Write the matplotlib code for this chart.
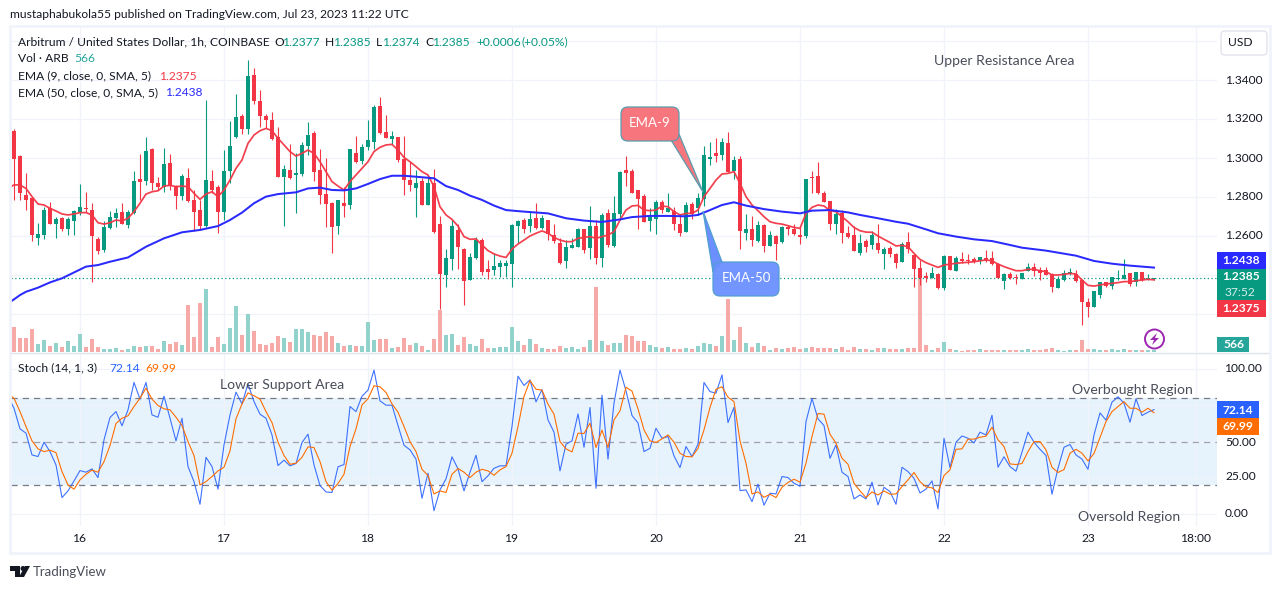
import numpy as np
import matplotlib
matplotlib.use("Agg")
import matplotlib.pyplot as plt
from matplotlib.patches import Rectangle, FancyBboxPatch, Polygon, Circle

W, H = 1281, 589
GREEN = "#089981"
RED = "#f23645"
TEXT = "#131722"
SOFT = "#4a4e5a"
GRID = "#f0f3fa"
FONT = "Lato"

opens = [
    1.3138,1.3010,1.2810,1.2795,1.2590,1.2605,1.2742,1.2661,1.2692,1.2636,1.2677,1.2721,
    1.2742,1.2733,1.2586,1.2528,1.2639,1.2691,1.2723,1.2656,1.2718,1.2892,1.2882,1.3046,
    1.2872,1.2853,1.2974,1.2856,1.2805,1.2897,1.2785,1.2733,1.2651,1.2882,1.2851,1.2723,
    1.2933,1.3108,1.3216,1.3147,1.3426,1.3292,1.3216,1.3195,1.3108,1.2903,1.2938,1.2913,
    1.2918,1.3062,1.3128,1.2938,1.2815,1.2769,1.2651,1.2769,1.2759,1.3026,1.2985,1.3056,
    1.3082,1.3267,1.3133,1.3098,1.3108,1.2995,1.2887,1.2846,1.2882,1.2759,1.2870,1.2661,
    1.2400,1.2482,1.2631,1.2533,1.2374,1.2487,1.2579,1.2431,1.2426,1.2441,1.2448,1.2456,
    1.2651,1.2682,1.2651,1.2692,1.2641,1.2682,1.2605,1.2564,1.2472,1.2538,1.2543,1.2636,
    1.2538,1.2651,1.2487,1.2718,1.2549,1.2713,1.2938,1.2933,1.2836,1.2805,1.2677,1.2687,
    1.2774,1.2723,1.2728,1.2661,1.2620,1.2764,1.2744,1.2790,1.2997,1.3026,1.3015,1.3077,
    1.2933,1.2995,1.2615,1.2636,1.2574,1.2656,1.2549,1.2600,1.2569,1.2646,1.2636,1.2605,
    1.2600,1.2904,1.2908,1.2821,1.2779,1.2661,1.2718,1.2615,1.2605,1.2513,1.2574,1.2554,
    1.2564,1.2508,1.2538,1.2508,1.2467,1.2567,1.2502,1.2436,1.2395,1.2384,1.2405,1.2333,
    1.2497,1.2420,1.2482,1.2477,1.2482,1.2470,1.2487,1.2487,1.2456,1.2369,1.2403,1.2390,
    1.2379,1.2420,1.2441,1.2426,1.2426,1.2405,1.2333,1.2374,1.2403,1.2405,1.2374,1.2261,
    1.2236,1.2297,1.2364,1.2343,1.2379,1.2379,1.2408,1.2364,1.2413,1.2379,1.2377,
]
highs = [
    1.3147,1.3015,1.2921,1.2797,1.2665,1.2750,1.2776,1.2699,1.2699,1.2699,1.2733,1.2867,
    1.2826,1.2771,1.2597,1.2675,1.2728,1.2742,1.2771,1.2733,1.2933,1.3021,1.3110,1.3050,
    1.2904,1.3051,1.3021,1.2862,1.2918,1.2949,1.2836,1.2785,1.3298,1.2938,1.2862,1.3041,
    1.3190,1.3328,1.3226,1.3503,1.3462,1.3349,1.3226,1.3236,1.3159,1.2964,1.3072,1.3024,
    1.3082,1.3185,1.3139,1.3045,1.3000,1.2774,1.2785,1.2853,1.3046,1.3113,1.3072,1.3195,
    1.3272,1.3313,1.3221,1.3139,1.3110,1.3113,1.2981,1.2938,1.2897,1.2913,1.2944,1.2703,
    1.2533,1.2682,1.2661,1.2538,1.2511,1.2593,1.2588,1.2477,1.2511,1.2477,1.2477,1.2661,
    1.2682,1.2692,1.2725,1.2769,1.2708,1.2682,1.2661,1.2588,1.2579,1.2588,1.2639,1.2636,
    1.2754,1.2682,1.2716,1.2738,1.2805,1.2933,1.3010,1.2944,1.2836,1.2815,1.2742,1.2785,
    1.2785,1.2821,1.2747,1.2713,1.2774,1.2776,1.2821,1.3062,1.3082,1.3103,1.3103,1.3133,
    1.3010,1.3010,1.2713,1.2703,1.2677,1.2661,1.2627,1.2605,1.2651,1.2656,1.2661,1.2648,
    1.2892,1.2933,1.2980,1.2829,1.2779,1.2738,1.2733,1.2651,1.2651,1.2610,1.2583,1.2626,
    1.2661,1.2545,1.2549,1.2511,1.2569,1.2620,1.2508,1.2477,1.2415,1.2441,1.2408,1.2502,
    1.2497,1.2497,1.2518,1.2508,1.2490,1.2490,1.2528,1.2523,1.2460,1.2412,1.2415,1.2405,
    1.2412,1.2461,1.2461,1.2441,1.2441,1.2408,1.2395,1.2426,1.2436,1.2426,1.2379,1.2282,
    1.2320,1.2366,1.2366,1.2390,1.2426,1.2482,1.2410,1.2415,1.2415,1.2405,1.2385,
]
lows = [
    1.2785,1.2785,1.2733,1.2576,1.2554,1.2586,1.2661,1.2590,1.2627,1.2605,1.2605,1.2708,
    1.2721,1.2366,1.2508,1.2516,1.2634,1.2648,1.2661,1.2639,1.2713,1.2785,1.2862,1.2836,
    1.2836,1.2827,1.2836,1.2738,1.2785,1.2776,1.2626,1.2631,1.2648,1.2819,1.2617,1.2682,
    1.2870,1.3104,1.3123,1.3123,1.3277,1.3161,1.3152,1.3092,1.2903,1.2651,1.2892,1.2716,
    1.2908,1.3015,1.2880,1.2764,1.2644,1.2513,1.2610,1.2699,1.2738,1.2973,1.2969,1.3041,
    1.3046,1.3123,1.3103,1.3072,1.2980,1.2810,1.2831,1.2697,1.2759,1.2759,1.2614,1.2225,
    1.2340,1.2426,1.2429,1.2246,1.2374,1.2484,1.2400,1.2379,1.2400,1.2391,1.2388,1.2340,
    1.2562,1.2614,1.2622,1.2636,1.2634,1.2579,1.2566,1.2456,1.2436,1.2538,1.2542,1.2514,
    1.2480,1.2456,1.2443,1.2545,1.2545,1.2682,1.2856,1.2821,1.2636,1.2673,1.2626,1.2610,
    1.2716,1.2723,1.2631,1.2600,1.2619,1.2687,1.2708,1.2754,1.2964,1.2980,1.2990,1.2928,
    1.2892,1.2533,1.2579,1.2549,1.2569,1.2518,1.2549,1.2477,1.2566,1.2605,1.2605,1.2559,
    1.2591,1.2819,1.2815,1.2774,1.2631,1.2610,1.2564,1.2590,1.2523,1.2502,1.2518,1.2533,
    1.2511,1.2431,1.2492,1.2436,1.2465,1.2513,1.2338,1.2349,1.2364,1.2383,1.2328,1.2323,
    1.2426,1.2419,1.2460,1.2456,1.2460,1.2456,1.2468,1.2453,1.2383,1.2328,1.2379,1.2354,
    1.2378,1.2419,1.2395,1.2374,1.2398,1.2313,1.2331,1.2369,1.2398,1.2366,1.2143,1.2184,
    1.2234,1.2282,1.2340,1.2328,1.2376,1.2378,1.2343,1.2343,1.2371,1.2376,1.2374,
]
closes = [
    1.2995,1.2822,1.2785,1.2605,1.2610,1.2733,1.2661,1.2687,1.2636,1.2687,1.2728,1.2749,
    1.2737,1.2600,1.2523,1.2646,1.2696,1.2718,1.2661,1.2723,1.2882,1.2877,1.3036,1.2872,
    1.2851,1.2969,1.2856,1.2805,1.2908,1.2781,1.2723,1.2651,1.2887,1.2836,1.2723,1.2933,
    1.3062,1.3210,1.3149,1.3421,1.3292,1.3216,1.3195,1.3098,1.2903,1.2944,1.2897,1.2925,
    1.3065,1.3118,1.2928,1.2810,1.2764,1.2646,1.2785,1.2754,1.3046,1.2980,1.3056,1.3092,
    1.3262,1.3128,1.3103,1.3113,1.2990,1.2887,1.2862,1.2872,1.2759,1.2872,1.2620,1.2405,
    1.2487,1.2651,1.2543,1.2369,1.2492,1.2579,1.2415,1.2415,1.2446,1.2461,1.2461,1.2656,
    1.2677,1.2636,1.2687,1.2641,1.2692,1.2610,1.2574,1.2461,1.2543,1.2554,1.2636,1.2528,
    1.2651,1.2487,1.2708,1.2554,1.2718,1.2928,1.2923,1.2821,1.2790,1.2673,1.2697,1.2774,
    1.2733,1.2744,1.2661,1.2615,1.2759,1.2714,1.2795,1.3015,1.3005,1.3010,1.3082,1.2928,
    1.2990,1.2626,1.2636,1.2579,1.2656,1.2549,1.2605,1.2559,1.2646,1.2636,1.2610,1.2595,
    1.2892,1.2899,1.2821,1.2774,1.2661,1.2713,1.2615,1.2597,1.2523,1.2562,1.2543,1.2605,
    1.2528,1.2533,1.2508,1.2461,1.2559,1.2535,1.2431,1.2384,1.2386,1.2410,1.2333,1.2497,
    1.2426,1.2487,1.2473,1.2470,1.2465,1.2490,1.2477,1.2456,1.2384,1.2405,1.2383,1.2383,
    1.2410,1.2441,1.2420,1.2410,1.2400,1.2338,1.2379,1.2410,1.2413,1.2369,1.2261,1.2236,
    1.2318,1.2364,1.2343,1.2390,1.2384,1.2400,1.2354,1.2413,1.2374,1.2384,1.2385,
]
volumes = [
    7600,4300,4300,7000,2500,3700,1900,2800,1600,3400,1900,5500,
    1600,4000,1600,1000,1000,1300,700,1000,1900,1600,1900,1900,
    1000,3400,2500,3100,2200,14200,4600,14800,19000,1600,4600,2500,
    7300,13900,5200,11500,6400,2500,2200,2800,4900,4300,3100,7000,
    7000,6100,5200,4900,6100,4900,2800,1900,2200,1900,1900,9100,
    3700,4000,4000,1300,1600,4300,2200,2800,1900,700,4000,12700,
    5200,5500,2200,4600,2500,1900,4000,1300,1300,1600,1600,7600,
    3400,2200,4000,2500,1300,1000,1000,1900,1300,1600,1000,1600,
    3700,19600,3400,2200,2800,2800,5200,4900,3400,3400,2200,1600,
    1300,1600,1000,1000,1300,1000,1900,2800,2500,1900,4900,16000,
    3700,7600,2800,1600,2800,1900,700,1300,1000,1300,1600,1000,
    1300,1600,1300,1300,1300,1000,1600,700,1600,1000,1000,700,
    1300,1300,1000,1000,1000,1300,1300,22200,2200,700,1300,3100,
    1000,700,400,700,700,1000,700,700,700,700,700,700,
    700,1000,700,700,1000,1300,700,400,700,700,3700,1000,
    1000,700,700,1000,700,1000,700,700,700,700,566,
]
# line values start one bar left of the first visible candle
ema9 = [
    1.2844,1.2862,1.2862,1.2844,1.2802,1.2764,1.2759,1.2742,1.2728,1.2713,1.2708,1.2713,
    1.2720,1.2720,1.2708,1.2668,1.2661,1.2668,1.2682,1.2677,1.2691,1.2725,1.2768,1.2815,
    1.2827,1.2832,1.2856,1.2860,1.2853,1.2856,1.2853,1.2819,1.2788,1.2815,1.2827,1.2802,
    1.2836,1.2887,1.2947,1.2990,1.3075,1.3118,1.3140,1.3152,1.3140,1.3101,1.3067,1.3033,
    1.3010,1.3024,1.3041,1.3024,1.2981,1.2930,1.2879,1.2856,1.2836,1.2879,1.2913,1.2947,
    1.2981,1.3033,1.3055,1.3067,1.3070,1.3041,1.3003,1.2981,1.2956,1.2930,1.2913,1.2853,
    1.2750,1.2708,1.2685,1.2651,1.2597,1.2583,1.2585,1.2554,1.2525,1.2508,1.2497,1.2490,
    1.2533,1.2559,1.2579,1.2600,1.2614,1.2626,1.2614,1.2593,1.2579,1.2571,1.2571,1.2588,
    1.2593,1.2597,1.2588,1.2597,1.2605,1.2622,1.2682,1.2733,1.2754,1.2757,1.2733,1.2730,
    1.2733,1.2754,1.2750,1.2725,1.2708,1.2716,1.2716,1.2733,1.2802,1.2844,1.2887,1.2918,
    1.2921,1.2930,1.2870,1.2802,1.2759,1.2730,1.2699,1.2673,1.2665,1.2661,1.2653,1.2644,
    1.2639,1.2716,1.2747,1.2759,1.2754,1.2730,1.2725,1.2699,1.2673,1.2644,1.2627,1.2620,
    1.2619,1.2600,1.2583,1.2567,1.2549,1.2552,1.2545,1.2511,1.2480,1.2463,1.2451,1.2439,
    1.2451,1.2456,1.2460,1.2463,1.2465,1.2468,1.2473,1.2477,1.2473,1.2456,1.2443,1.2432,
    1.2422,1.2422,1.2429,1.2429,1.2422,1.2417,1.2400,1.2400,1.2403,1.2408,1.2405,1.2374,
    1.2347,1.2343,1.2349,1.2354,1.2357,1.2361,1.2366,1.2366,1.2371,1.2374,1.2378,1.2375,
]
ema50_bars = [
    -1,0,1,2,4,6,8,10,12,14,16,19,22,25,28,31,34,36,38,40,42,44,47,49,51,53,55,57,59,61,63,65,67,
    70,72,74,76,78,80,82,85,89,92,95,98,101,103,106,109,112,114,116,118,120,122,125,128,131,133,
    136,139,141,144,147,149,152,154,157,160,163,166,168,172,177,180,183,186,190,
]
ema50 = [
    1.2255,1.2275,1.2297,1.2314,1.2335,1.2362,1.2383,1.2413,1.2443,1.2451,1.2468,1.2490,1.2545,
    1.2588,1.2619,1.2631,1.2651,1.2682,1.2720,1.2768,1.2802,1.2815,1.2824,1.2844,1.2848,1.2836,
    1.2834,1.2844,1.2867,1.2892,1.2909,1.2909,1.2904,
    1.2896,1.2856,1.2836,1.2807,1.2785,1.2756,1.2733,1.2725,1.2716,1.2691,1.2679,1.2672,1.2685,
    1.2697,1.2703,1.2703,1.2701,1.2708,1.2733,1.2759,1.2773,1.2756,1.2738,1.2725,1.2716,1.2730,
    1.2733,1.2721,1.2708,1.2691,1.2673,1.2663,1.2634,1.2614,1.2597,1.2583,1.2574,1.2554,1.2540,
    1.2525,1.2499,1.2472,1.2458,1.2448,1.2438,
]
stoch_k = [
    81.2,73.1,58.9,55.9,40.9,39.8,49.7,43.2,34.0,11.5,16.1,23.0,30.1,29.0,31.3,25.3,
    51.3,66.7,70.8,61.0,72.0,90.9,79.4,90.9,68.5,66.9,81.4,66.2,50.6,66.2,32.9,22.5,
    6.9,39.3,32.9,17.3,47.8,68.5,84.2,76.1,89.9,77.7,69.0,66.2,54.7,33.6,37.3,33.4,
    35.0,49.5,55.2,34.0,19.8,15.4,15.0,32.7,34.3,74.3,70.8,81.4,85.6,99.4,78.2,75.2,
    75.2,61.2,47.6,44.4,38.0,11.0,28.3,2.5,16.8,24.4,39.6,31.3,16.1,29.0,40.7,22.5,
    26.5,31.7,33.4,33.4,60.5,95.2,88.8,92.7,77.5,86.0,65.1,56.6,29.9,48.3,50.6,69.2,
    46.2,73.6,17.9,82.1,38.0,76.6,99.4,85.1,68.1,63.0,43.2,45.5,59.3,52.4,53.6,40.2,
    32.2,46.7,39.8,48.3,90.9,84.6,83.5,96.1,63.2,73.8,16.3,16.8,8.7,20.7,6.2,14.5,
    14.0,26.0,25.3,21.4,19.3,63.9,79.8,65.8,61.2,38.6,47.8,29.0,26.0,10.6,13.3,10.6,
    22.1,6.4,18.6,15.6,6.9,32.4,29.4,24.8,14.7,17.3,23.0,3.7,52.4,32.2,49.7,54.0,
    52.4,49.2,56.6,54.7,68.3,32.4,39.6,32.9,29.7,42.8,56.6,49.7,44.8,40.5,13.8,31.7,
    46.2,48.1,40.9,38.0,31.0,54.7,69.9,64.9,77.3,81.0,76.6,63.5,79.6,68.1,70.4,72.14,
]
stoch_d = [
    83.0,80.0,70.8,60.5,50.6,45.1,43.2,44.2,42.5,29.4,20.2,17.3,23.7,27.6,30.4,29.0,
    36.3,47.4,62.6,66.2,67.9,74.3,80.0,86.9,79.4,75.0,72.7,72.0,66.9,61.2,50.1,40.5,
    20.2,22.5,26.0,29.9,32.4,43.7,65.8,76.1,83.7,81.7,79.4,70.8,63.2,49.7,40.5,34.5,
    35.2,39.3,46.5,46.0,36.3,22.5,16.6,21.2,27.6,46.7,58.9,75.4,79.6,88.6,87.9,84.0,
    76.1,70.4,60.5,50.1,43.2,31.0,26.7,14.0,16.1,15.0,27.6,31.5,29.0,25.3,29.0,31.0,
    29.9,26.9,30.6,32.9,42.1,60.5,81.2,92.2,86.2,85.6,75.9,69.0,50.1,45.1,43.0,55.9,
    55.7,62.8,46.0,58.0,46.0,65.1,71.3,87.6,84.9,72.7,58.2,50.6,49.5,52.0,54.7,49.7,
    42.1,39.8,39.6,45.5,58.2,73.6,86.2,87.9,80.7,77.7,50.6,35.2,14.0,15.4,11.7,13.8,
    11.5,18.6,21.9,24.2,22.1,35.2,53.6,69.5,69.0,55.2,49.0,38.6,34.5,21.4,16.1,11.5,
    15.4,13.3,16.1,13.8,14.0,19.1,23.7,28.8,22.5,18.9,18.2,15.0,26.7,30.6,44.8,45.1,
    51.8,51.8,53.1,53.8,60.0,51.3,46.7,34.7,34.3,35.0,43.2,50.1,50.1,44.4,32.4,28.8,
    30.8,42.1,44.8,42.1,36.8,41.9,52.9,63.9,70.8,74.3,77.7,73.1,73.1,70.4,73.1,69.99,
]
price_ticks = [1.22, 1.24, 1.26, 1.28, 1.30, 1.32, 1.34, 1.36]
price_labels = ["1.2600", "1.2800", "1.3000", "1.3200", "1.3400"]
stoch_ticks = [0, 25, 50, 75, 100]
time_bars = [11, 35, 59, 83, 107, 131, 155, 179, 197]
time_labels = ["16", "17", "18", "19", "20", "21", "22", "23", "18:00"]
last_price = 1.2385
price_range = (1.2005, 1.3672)
bar_range = (-0.5, 200.5)


def pane(fig, x0, y0, x1, y1):
    return fig.add_axes([x0 / W, 1 - y1 / H, (x1 - x0) / W, (y1 - y0) / H])


def label(ov, x, y, s, color=TEXT, size=12, ha="left", **kw):
    ov.text(x, y, s, color=color, fontsize=size * 0.72, ha=ha, va="center", family=FONT, **kw)


def tag(ov, x0, y0, x1, y1, color):
    ov.add_patch(Rectangle((x0, y0), x1 - x0, y1 - y0, fc=color, ec="none", zorder=5))


def clean(ax):
    for s in ax.spines.values():
        s.set_visible(False)
    ax.set_xticks([])
    ax.set_yticks([])


def draw_price(grid_ax, vol_ax, ax):
    bars = np.arange(len(closes))
    o, h, l, c = map(np.array, (opens, highs, lows, closes))
    up = c >= o
    colors = np.where(up, GREEN, RED)

    for p in price_ticks:
        grid_ax.axhline(p, color=GRID, lw=0.9)
    for b in time_bars:
        grid_ax.axvline(b, color=GRID, lw=0.9)
    grid_ax.set_xlim(*bar_range)
    grid_ax.set_ylim(*price_range)
    clean(grid_ax)

    vol_ax.bar(bars, volumes, width=0.76, color=np.where(up, "#92d2cc", "#f7a9a7"))
    vol_ax.set_xlim(*bar_range)
    vol_ax.set_ylim(0, 97500)
    vol_ax.patch.set_visible(False)
    clean(vol_ax)

    ax.axhline(last_price, color=GREEN, lw=0.9, ls=(0, (1, 2)), zorder=2)
    ax.vlines(bars, l, h, colors=colors, lw=0.8, zorder=3)
    ax.bar(bars, c - o, bottom=o, width=0.76, color=colors, zorder=4)
    ax.plot(np.arange(-1, len(ema9) - 1), ema9, color="#f23645", lw=1.25, alpha=0.95, zorder=5)
    ax.plot(ema50_bars, ema50, color="#2a2aff", lw=1.45, zorder=5)
    ax.set_xlim(*bar_range)
    ax.set_ylim(*price_range)
    ax.patch.set_visible(False)
    clean(ax)


def draw_stoch(ax):
    ax.axhspan(20, 80, color="#2196f3", alpha=0.11, lw=0, zorder=1)
    for v in stoch_ticks:
        ax.axhline(v, color=GRID, lw=0.9, zorder=1)
    for v in (20, 80):
        ax.axhline(v, color="#787b86", lw=0.9, ls=(0, (5, 4)), zorder=2)
    ax.axhline(50, color="#a0a3ad", lw=0.9, ls=(0, (5, 4)), zorder=2)
    for b in time_bars:
        ax.axvline(b, color=GRID, lw=0.9, zorder=1)
    x = np.arange(-1, len(stoch_k) - 1)
    ax.plot(x, stoch_k, color="#2962ff", lw=0.8, alpha=0.9, zorder=3)
    ax.plot(x, stoch_d, color="#ff6d00", lw=0.8, zorder=4)
    ax.set_xlim(*bar_range)
    ax.set_ylim(-8.1, 111.2)
    clean(ax)


def draw_overlay(ov):
    ov.set_xlim(0, W)
    ov.set_ylim(H, 0)
    ov.axis("off")
    ov.patch.set_visible(False)

    # frame and pane divider
    ov.add_patch(Rectangle((10, 26), 1260, 527, fc="none", ec=GRID, lw=2))
    ov.plot([11, 1268], [352.5, 352.5], color="#e0e3eb", lw=1)

    label(ov, 10, 14, "mustaphabukola55 published on TradingView.com, Jul 23, 2023 11:22 UTC")

    # legend block
    label(ov, 18, 42, "Arbitrum / United States Dollar, 1h, COINBASE")
    for x, s in [(274, "O"), (325, "H"), (376, "L"), (425, "C")]:
        label(ov, x, 42, s)
    for x, s in [(283, "1.2377"), (334, "1.2385"), (383, "1.2374"), (433, "1.2385"),
                 (476, "+0.0006"), (522, "(+0.05%)")]:
        label(ov, x, 42, s, color=GREEN)
    label(ov, 18, 59, "Vol · ARB")
    label(ov, 74, 59, "566", color="#26a69a")
    label(ov, 18, 76, "EMA (9, close, 0, SMA, 5)")
    label(ov, 160, 76, "1.2375", color=RED)
    label(ov, 18, 93, "EMA (50, close, 0, SMA, 5)")
    label(ov, 166, 93, "1.2438", color="#2a2aff")
    label(ov, 18, 368, "Stoch (14, 1, 3)")
    label(ov, 109, 368, "72.14", color="#2962ff")
    label(ov, 145, 368, "69.99", color="#ff6d00")

    # notes on the chart
    label(ov, 934, 61, "Upper Resistance Area", color=SOFT, size=14)
    label(ov, 220, 385, "Lower Support Area", color=SOFT, size=14)
    label(ov, 1072, 390, "Overbought Region", color=SOFT, size=14)
    label(ov, 1078, 517, "Oversold Region", color=SOFT, size=14)

    # callouts
    ov.add_patch(Polygon([(671, 140), (703, 192), (679, 134)], fc="#f7767e", ec="#5b9cae", lw=0.9, zorder=6))
    ov.add_patch(FancyBboxPatch((625, 111), 50, 26, boxstyle="round,pad=4,rounding_size=7",
                                fc="#f7767e", ec="#5b9cae", lw=0.9, zorder=6))
    ov.add_patch(Polygon([(703, 211), (713, 272), (722, 262)], fc="#6b8fff", ec="#4f9fd0", lw=0.9, zorder=6))
    ov.add_patch(FancyBboxPatch((717, 266), 58, 26, boxstyle="round,pad=4,rounding_size=7",
                                fc="#6b8fff", ec="#4f9fd0", lw=0.9, alpha=0.95, zorder=6))
    ov.text(650, 123, "EMA-9", color="white", fontsize=9.5, ha="center", va="center", family=FONT, zorder=7)
    ov.text(746, 278, "EMA-50", color="white", fontsize=9.5, ha="center", va="center", family=FONT, zorder=7)

    # price scale
    for y, s in [(235.7, price_labels[0]), (197, price_labels[1]), (158, price_labels[2]),
                 (119, price_labels[3]), (80, price_labels[4])]:
        label(ov, 1225.5, y, s)
    for y, s in [(369, "100.00"), (442, "50.00"), (477, "25.00"), (513.5, "0.00")]:
        label(ov, 1225, y, s)
    for b, s in zip(time_bars, time_labels):
        label(ov, 14 + 6 * b, 539, s, ha="center")

    ov.add_patch(FancyBboxPatch((1223, 33), 42, 20, boxstyle="round,pad=2,rounding_size=4",
                                fc="white", ec="#e0e3eb", lw=1))
    label(ov, 1240, 43, "USD", ha="center")

    tag(ov, 1217, 252, 1266, 269, "#2a2aff")
    tag(ov, 1217, 269, 1266, 300, GREEN)
    tag(ov, 1217, 300, 1266, 317, RED)
    tag(ov, 1217, 337, 1249, 352, "#26a69a")
    tag(ov, 1217, 401, 1259, 418, "#2962ff")
    tag(ov, 1217, 418, 1259, 435, "#ff6d00")
    label(ov, 1241, 261, "1.2438", color="white", ha="center", zorder=6, fontweight="bold")
    label(ov, 1241, 277, "1.2385", color="white", ha="center", zorder=6, fontweight="bold")
    label(ov, 1240, 292, "37:52", color="#d6f0ea", ha="center", zorder=6)
    label(ov, 1241, 309, "1.2375", color="white", ha="center", zorder=6, fontweight="bold")
    label(ov, 1234, 345, "566", color="white", ha="center", zorder=6, fontweight="bold")
    label(ov, 1238, 410, "72.14", color="white", ha="center", zorder=6, fontweight="bold")
    label(ov, 1238, 427, "69.99", color="white", ha="center", zorder=6, fontweight="bold")

    # bolt badge
    ov.add_patch(Circle((1154.5, 339), 9.5, fc="white", ec="#9c27b0", lw=1.4, zorder=6))
    ov.add_patch(Polygon([(1157, 333), (1150, 340), (1154, 340), (1152, 345), (1159, 338), (1155, 338)],
                         fc="#9c27b0", ec="none", zorder=7))

    # logo
    ov.add_patch(Polygon([(10, 566), (20, 566), (20, 577), (15, 577), (15, 571), (10, 571)], fc="#131722", ec="none"))
    ov.add_patch(Circle((23, 568.5), 2.5, fc="#131722", ec="none"))
    ov.add_patch(Polygon([(25, 566), (30, 566), (24, 577), (19, 577)], fc="#131722", ec="none"))
    label(ov, 33, 572, "TradingView", color=SOFT, size=13.2)


def main():
    fig = plt.figure(figsize=(W / 100, H / 100), dpi=100, facecolor="white")
    grid_ax = pane(fig, 11, 27, 1217, 352)
    vol_ax = pane(fig, 11, 27, 1217, 352)
    price_ax = pane(fig, 11, 27, 1217, 352)
    stoch_ax = pane(fig, 11, 353, 1217, 526)
    overlay = fig.add_axes([0, 0, 1, 1])

    draw_price(grid_ax, vol_ax, price_ax)
    draw_stoch(stoch_ax)
    draw_overlay(overlay)

    fig.savefig("out.png", dpi=100, facecolor="white")


if __name__ == "__main__":
    main()
